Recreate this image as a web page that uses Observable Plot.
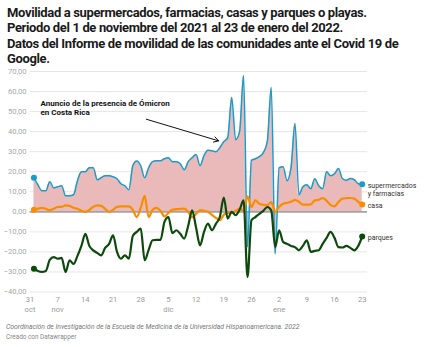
<!DOCTYPE html>
<html>
<head>
<meta charset="utf-8">
<script src="https://cdn.jsdelivr.net/npm/d3@7"></script>
<script src="https://cdn.jsdelivr.net/npm/@observablehq/plot@0.6"></script>
<style>
  html, body { margin: 0; padding: 0; background: #fff; }
  body { width: 425px; height: 347px; overflow: hidden; font-family: Roboto, "Noto Sans", sans-serif; }
  #title { box-sizing: border-box; height: 65px; padding: 4.8px 0 0 7px; font: 700 13px/15.5px Roboto, sans-serif; letter-spacing: -0.36px; color: #1a1a1a; white-space: nowrap; }
  #chart svg { display: block; overflow: visible; }
  #footer { padding: 1px 0 0 6px; color: #777; }
  #footer .src { font: italic 6.8px/9.8px Roboto, sans-serif; }
  #footer .by { font: 6.4px/9.6px Roboto, sans-serif; color: #888; }
</style>
</head>
<body>
<div id="title">Movilidad a supermercados, farmacias, casas y parques o playas.<br>Periodo del 1 de noviembre del 2021 al 23 de enero del 2022.<br>Datos del Informe de movilidad de las comunidades ante el Covid 19 de<br>Google.</div>
<div id="chart"></div>
<div id="footer"><div class="src">Coordinación de Investigación de la Escuela de Medicina de la Universidad Hispanoamericana. 2022</div><div class="by">Creado con Datawrapper</div></div>
<script>
// ---- data (daily, 1 Nov 2021 .. 23 Jan 2022) ----
const startDay = Date.UTC(2021, 10, 1);
const supermercados = [17, 13.5, 10.5, 10.5, 15, 12, 12.5, 13, 8, 8, 8.5, 15.5, 20, 20, 22, 22, 16, 17, 18, 18,
  17.5, 16.5, 14, 13, 11, 23, 25.4, 23, 17, 22, 25, 25.5, 25.5, 26.5, 27, 25, 25, 24, 21, 25,
  27, 28.6, 23, 28, 30.7, 30.5, 30, 32, 35, 37, 57, 36, 40, 68, -17.6, 25.7, 26.5, 27.5, 29.5, 35,
  62, -21, 22, 22.5, 15.5, 22, 44, 8.5, 12.5, 13.5, 11.5, 16.5, 13, 11.5, 20, 18, 19, 21.6, 16.6, 15.7,
  16.6, 16, 14, 13.7];
const casa = [1, 1.5, 2, 1.5, 0.8, 1.5, 2.4, 2.5, 3.2, 3, 2, 1.5, 0.5, 0, 1, 2.5, 3.2, 3, 1.5, 0,
  1, 2.5, 2.7, 2.7, 2.7, 1, -2.6, 2, 8, -2.6, 1, 2, 0.5, -2.3, -0.5, 1.1, 1.3, 1.5, 1.6, 0,
  -2.8, -1, 0.8, 0.5, 0, -1.5, -3, -4.2, -1.5, -0.5, -0.5, 0.5, 1.6, 0.5, 7.7, 2.4, 5.7, 4, 3.5, 3.2,
  4.9, 0, 2.5, 4, 4.5, 5, 6, 5, 3.6, 3.6, 3.7, 5.7, 6, 6.9, 5.5, 3.5, 2.7, 4.9, 6.6, 6.8,
  6.9, 6.6, 5, 3.7];
const parques = [-28.4, -29.5, -30, -29.5, -24, -22.6, -23.4, -23, -30, -24.2, -26, -22, -17, -11, -17, -19.2, -20.5, -21.7, -18, -16,
  -11.7, -20, -23.4, -21.7, -23.4, -12, -10, -8.4, -24.2, -19, -14.2, -14, -14, -5, -2.6, -10.6, -9.2, -11, -13.4, -7,
  0.7, -8, -16.7, -10, -5.9, -9.2, -6, -2.6, 7.1, -3.4, 0, -1.7, 1, 5.7, -32.6, -4.2, -2.6, -1, 0.5, 2.4,
  0.7, -17.6, -9.2, -15, -16, -17, -17.6, -19.2, -17, -14.2, -20, -19.5, -19.2, -16, -13, -10, -13, -17.6, -17.8, -17,
  -18, -19.2, -17, -12.3];
const seriesNames = ["supermercados\ny farmacias", "casa", "parques"];
const seriesColors = ["#1a9bc9", "#fb8c00", "#0c4a0c"];
const areaColor = "#eababa";
const yTicks = [-40, -30, -20, -10, 0, 10, 20, 30, 40, 50, 60, 70];
const xTickDates = ["2021-10-31", "2021-11-07", "2021-11-14", "2021-11-21", "2021-11-28", "2021-12-05", "2021-12-12",
  "2021-12-19", "2021-12-26", "2022-01-02", "2022-01-09", "2022-01-16", "2022-01-23"];
const xTickLabels = ["31\noct", "7\nnov", "14", "21", "28", "5\ndic", "12", "19", "26", "2\nene", "9", "16", "23"];
const annotationText = "Anuncio de la presencia de Ómicron\nen Costa Rica";

// ---- build table ----
const DAY = 864e5;
const rows = supermercados.map((v, i) => ({date: new Date(startDay + i * DAY), s: v, c: casa[i], p: parques[i]}));
const first = rows[0], last = rows[rows.length - 1];
const tickDates = xTickDates.map(d => new Date(d + "T00:00:00Z"));
const tickLabelOf = new Map(tickDates.map((d, i) => [+d, xTickLabels[i]]));
const fmtY = v => (v < 0 ? "\u2212" : "") + Math.abs(v).toFixed(2).replace(".", ",");

const width = 425, marginLeft = 29.5, marginRight = 58;
const x0 = new Date(Date.UTC(2021, 9, 31));
const x1 = new Date(+x0 + 85.34 * DAY);
const ann = {date: new Date(+x0 + 2.65 * DAY), v: 51.8};
const arrow = {xa: new Date(+x0 + 29.4 * DAY), ya: 46.2, xb: new Date(+x0 + 47.7 * DAY), yb: 35.4};

const chart = Plot.plot({
  width, height: 257,
  marginLeft, marginRight, marginTop: 6, marginBottom: 30.5,
  style: {fontFamily: "Roboto, sans-serif", background: "transparent", overflow: "visible"},
  x: {type: "utc", domain: [x0, x1]},
  y: {domain: [-40, 70]},
  marks: [
    Plot.gridY(yTicks.filter(t => t !== 0), {stroke: "#e6e6e6", strokeOpacity: 1, strokeWidth: 1}),
    Plot.axisY(yTicks, {tickSize: 0, tickPadding: 3.5, tickFormat: fmtY, fontSize: 7.6, fill: "#a8a8a8", label: null}),
    Plot.axisX(tickDates, {tickSize: 0, tickPadding: 3.5, tickFormat: d => tickLabelOf.get(+d), fontSize: 7.6, fill: "#9a9a9a", lineHeight: 1.25, label: null}),
    Plot.areaY(rows, {x: "date", y: "s", fill: areaColor, fillOpacity: 1, curve: "monotone-x"}),
    Plot.ruleY([0], {stroke: "#a3a3a3", strokeWidth: 1.8}),
    Plot.lineY(rows, {x: "date", y: "s", stroke: seriesColors[0], strokeWidth: 1.5, curve: "monotone-x"}),
    Plot.lineY(rows, {x: "date", y: "c", stroke: seriesColors[1], strokeWidth: 2.2, curve: "monotone-x"}),
    Plot.lineY(rows, {x: "date", y: "p", stroke: seriesColors[2], strokeWidth: 2.2, curve: "monotone-x"}),
    Plot.dot([first, last], {x: "date", y: "s", r: 3, fill: seriesColors[0]}),
    Plot.dot([first, last], {x: "date", y: "c", r: 3, fill: seriesColors[1]}),
    Plot.dot([first, last], {x: "date", y: "p", r: 3, fill: seriesColors[2]}),
    Plot.text([last], {x: "date", y: "s", text: () => seriesNames[0], dx: 5.5, dy: -2.2, textAnchor: "start", lineAnchor: "top", lineHeight: 1.15, fontSize: 7, fill: "#333"}),
    Plot.text([last], {x: "date", y: "c", text: () => seriesNames[1], dx: 5.5, dy: 1.5, textAnchor: "start", fontSize: 7, fill: "#333"}),
    Plot.text([last], {x: "date", y: "p", text: () => seriesNames[2], dx: 5.5, dy: 1.5, textAnchor: "start", fontSize: 7, fill: "#333"}),
    Plot.text([ann], {x: "date", y: "v", text: () => annotationText, textAnchor: "start", lineHeight: 1.08, fontSize: 8, fontWeight: 700, fill: "#111"}),
    Plot.arrow([arrow], {x1: "xa", y1: "ya", x2: "xb", y2: "yb", stroke: "#111", strokeWidth: 1, headLength: 8})
  ]
});
document.getElementById("chart").append(chart);
</script>
</body>
</html>
